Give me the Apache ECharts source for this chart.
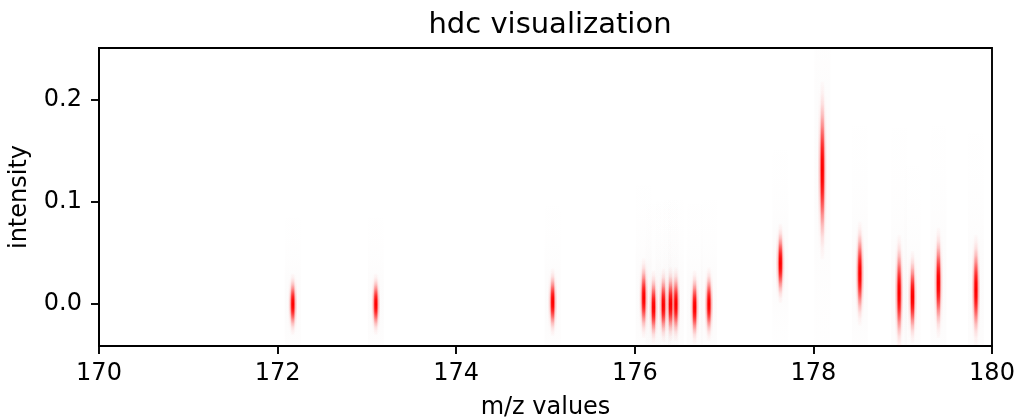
<!DOCTYPE html>
<html>
<head>
<meta charset="utf-8">
<script src="https://cdn.jsdelivr.net/npm/echarts@6/dist/echarts.min.js"></script>
<style>
  html, body { margin: 0; padding: 0; background: #fff; }
  #chart { width: 1016px; height: 419px; }
</style>
</head>
<body>
<div id="chart"></div>
<script>
// peak positions (m/z), centre intensity and vertical spread (sigma) of each blob
const mzValues = [172.17, 173.10, 175.08, 176.10, 176.21, 176.32, 176.40, 176.46, 176.67, 176.83,
  177.63, 178.10, 178.52, 178.96, 179.11, 179.40, 179.82]
const centers = [0.000, 0.000, 0.002, 0.006, -0.003, -0.001, 0.000, 0.000, -0.003, 0.000,
  0.040, 0.131, 0.030, 0.011, 0.007, 0.021, 0.014]
const spreads = [0.010, 0.010, 0.011, 0.013, 0.012, 0.012, 0.012, 0.012, 0.012, 0.012,
  0.013, 0.029, 0.017, 0.019, 0.015, 0.018, 0.018]
const xTicks = [170, 172, 174, 176, 178, 180]
const yTicks = [0.0, 0.1, 0.2]

const FONT = 'DejaVu Sans'
const chart = echarts.init(document.getElementById('chart'), null, { renderer: 'canvas' })

// gaussian falloff as gradient stops
function gaussStops(rgb, amax) {
  const stops = []
  const n = 16
  for (let i = 0; i <= n; i++) {
    const t = (i / n - 0.5) * 6
    const a = amax * Math.exp(-t * t / 2)
    stops.push({ offset: i / n, color: `rgba(${rgb},${a.toFixed(4)})` })
  }
  return stops
}

function renderItem(params, api) {
  const mz = api.value(0)
  const c = api.value(1)
  const s = api.value(2)
  const cs = params.coordSys
  const px = api.coord([mz, c])[0]
  const box = { x: cs.x, y: cs.y, width: cs.width, height: cs.height }

  function band(w, sig, rgb, amax) {
    const yt = api.coord([mz, c + 3 * sig])[1]
    const yb = api.coord([mz, c - 3 * sig])[1]
    const shape = echarts.graphic.clipRectByRect(
      { x: px - w / 2, y: yt, width: w, height: yb - yt }, box)
    if (!shape) return null
    return {
      type: 'rect',
      shape,
      style: { fill: new echarts.graphic.LinearGradient(0, yt, 0, yb, gaussStops(rgb, amax), true) },
    }
  }

  const children = [
    band(16, s * 3.5, '150,110,110', 0.025),
    band(8, s, '255,0,0', 0.15),
    band(5, s, '255,0,0', 0.4),
    band(3, s, '255,0,0', 1),
  ].filter(Boolean)
  return { type: 'group', children }
}

const axisCommon = {
  axisLine: { show: true, onZero: false, lineStyle: { color: '#000', width: 1.9 } },
  axisTick: { show: true, inside: false, length: 8, lineStyle: { color: '#000', width: 1.9 } },
  splitLine: { show: false },
}

chart.setOption({
  backgroundColor: '#fff',
  animation: false,
  title: {
    text: 'hdc visualization',
    left: 545,
    textAlign: 'center',
    top: 6,
    textStyle: { fontFamily: FONT, fontSize: 29, fontWeight: 'normal', color: '#000' },
  },
  grid: {
    left: 99, right: 24, top: 48, bottom: 73,
    outerBoundsMode: 'none',
    containLabel: false,
    show: true, borderColor: '#000', borderWidth: 1.9, backgroundColor: 'transparent',
  },
  xAxis: {
    type: 'value',
    min: 170, max: 180, interval: 2,
    name: 'm/z values',
    nameLocation: 'middle',
    nameGap: 50,
    nameTextStyle: { fontFamily: FONT, fontSize: 24, color: '#000' },
    ...axisCommon,
    axisLabel: {
      customValues: xTicks,
      margin: 16,
      fontFamily: FONT, fontSize: 24, color: '#000',
    },
    axisTick: { ...axisCommon.axisTick, customValues: xTicks },
  },
  yAxis: {
    type: 'value',
    min: -0.041, max: 0.251,
    name: 'intensity',
    nameLocation: 'middle',
    nameGap: 67,
    nameTextStyle: { fontFamily: FONT, fontSize: 24, color: '#000' },
    ...axisCommon,
    axisLabel: {
      customValues: yTicks,
      margin: 17,
      fontFamily: FONT, fontSize: 24, color: '#000',
      formatter: (v) => v.toFixed(1),
    },
    axisTick: { ...axisCommon.axisTick, customValues: yTicks },
  },
  series: [
    {
      type: 'custom',
      silent: true,
      renderItem,
      encode: { x: 0, y: 1 },
      data: mzValues.map((m, i) => [m, centers[i], spreads[i]]),
    },
  ],
})
</script>
</body>
</html>
